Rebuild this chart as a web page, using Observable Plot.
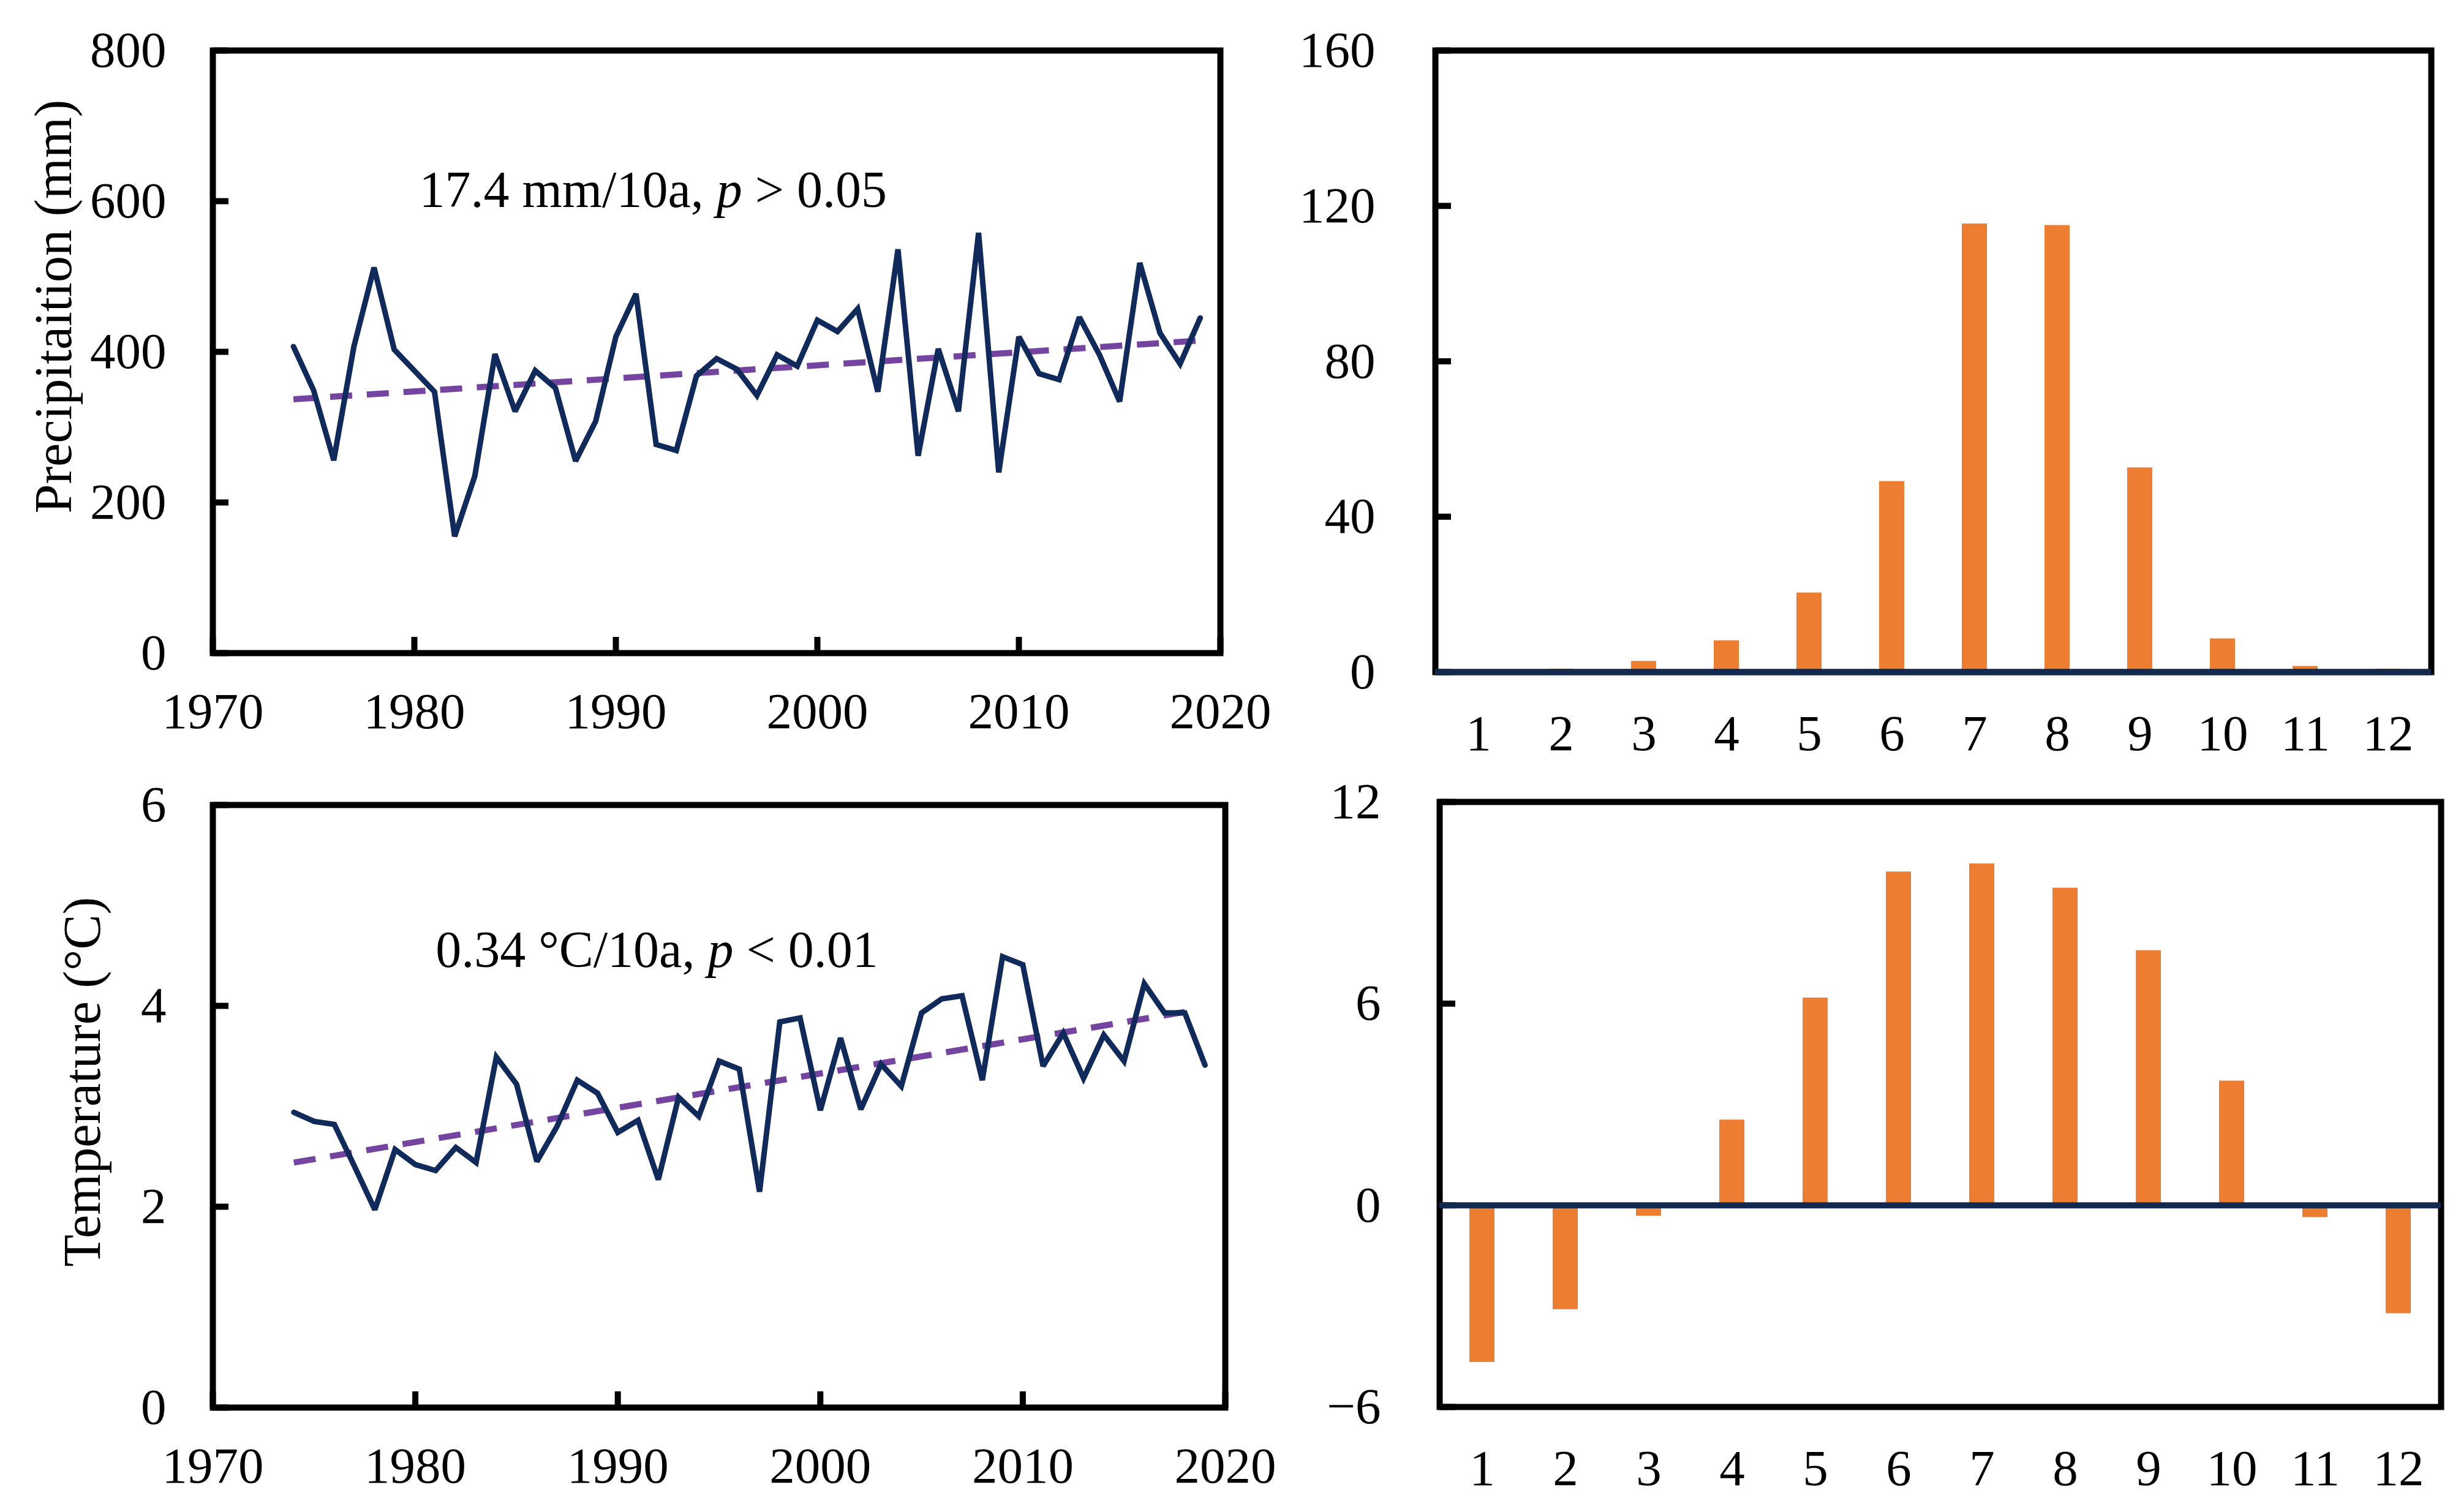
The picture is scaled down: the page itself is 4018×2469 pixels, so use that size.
<!DOCTYPE html>
<html><head><meta charset="utf-8">
<script src="https://cdn.jsdelivr.net/npm/d3@7"></script>
<script src="https://cdn.jsdelivr.net/npm/@observablehq/plot@0.6"></script>
<style>
html,body{margin:0;padding:0;background:#fff;}
#wrap{position:relative;width:4018px;height:2469px;overflow:hidden;background:#fff;}
#wrap svg{position:absolute;}
</style></head><body><div id="wrap"></div>
<script>
// ---------------- data ----------------
const years = [1974,1975,1976,1977,1978,1979,1980,1981,1982,1983,1984,1985,1986,1987,1988,1989,1990,1991,1992,1993,1994,1995,1996,1997,1998,1999,2000,2001,2002,2003,2004,2005,2006,2007,2008,2009,2010,2011,2012,2013,2014,2015,2016,2017,2018,2019];
const precip = [407,349,256,407,512,403,375,347,155,235,397,321,375,352,255,308,420,477,277,269,368,391,377,342,396,381,442,427,457,347,536,262,404,321,558,240,420,371,363,446,396,334,518,425,384,445];
const temp = [2.94,2.85,2.82,2.40,1.97,2.57,2.42,2.36,2.59,2.44,3.49,3.22,2.45,2.80,3.26,3.13,2.74,2.86,2.27,3.09,2.90,3.45,3.37,2.15,3.84,3.88,2.96,3.68,2.97,3.42,3.20,3.93,4.07,4.10,3.26,4.49,4.41,3.40,3.73,3.28,3.71,3.45,4.22,3.93,3.93,3.41];
const precipTrendYears = [1974, 2019];
const precipTrendValues = [337, 415];
const tempTrendYears = [1974, 2018];
const tempTrendValues = [2.44, 3.94];
const months = [1,2,3,4,5,6,7,8,9,10,11,12];
const monthPrecip = [0.3,0.8,2.8,8.1,20.4,49.1,115.4,115.0,52.6,8.6,1.5,0.8];
const monthTemp = [-4.67,-3.10,-0.32,2.54,6.17,9.92,10.16,9.44,7.58,3.70,-0.36,-3.22];
const yearTicks = [1970,1980,1990,2000,2010,2020];
const precipTicks = [0,200,400,600,800];
const tempTicks = [0,2,4,6];
const monthPrecipTicks = [0,40,80,120,160];
const monthTempTicks = [-6,0,6,12];
const precipLabel = "Precipitaition (mm)";
const tempLabel = "Temperature (°C)";
const precipNote = "17.4 mm/10a, p > 0.05";
const tempNote = "0.34 °C/10a, p < 0.01";

// ---------------- tables ----------------
const precipTable = years.map((y,i)=>({year:y, value:precip[i]}));
const tempTable = years.map((y,i)=>({year:y, value:temp[i]}));
const precipTrend = precipTrendYears.map((y,i)=>({year:y, value:precipTrendValues[i]}));
const tempTrend = tempTrendYears.map((y,i)=>({year:y, value:tempTrendValues[i]}));
const mpTable = months.map((m,i)=>({month:m, value:monthPrecip[i]}));
const mtTable = months.map((m,i)=>({month:m, value:monthTemp[i]}));

// ---------------- style ----------------
const FONT = "'Liberation Serif', 'Times New Roman', serif";
const NAVY = "#112a5c", PURPLE = "#7444a0", ORANGE = "#ED7D31", ZERO = "#13294f";
const FS = 83;
const SW = 10;
const baseStyle = {fontFamily: FONT, fontSize: FS+"px", background: "transparent", overflow: "visible", maxWidth: "none", color: "#000"};
const wrap = document.getElementById("wrap");
function place(svg, left, top){ svg.style.left = left+"px"; svg.style.top = top+"px"; wrap.appendChild(svg); }
const fmt = d => String(d);

function linePanel({table, trend, yDomain, yTicks, label, labelDx, labelDy, note, noteX, noteY, height, marginTop, marginBottom, marginRight}){
  return Plot.plot({
    width: 2100, height, marginLeft: 347, marginRight, marginTop, marginBottom,
    style: baseStyle,
    x: {domain: [1970, 2020], label: null},
    y: {domain: yDomain, label: null},
    marks: [
      Plot.line(trend, {x: "year", y: "value", stroke: PURPLE, strokeWidth: 10, strokeDasharray: "36,24", strokeLinecap: "butt"}),
      Plot.line(table, {x: "year", y: "value", stroke: NAVY, strokeWidth: 9, strokeLinejoin: "miter", strokeMiterlimit: 2.5}),
      Plot.axisX({ticks: yearTicks, tickSize: 0, tickPadding: 64, fontSize: FS, tickFormat: fmt, label: null}),
      Plot.axisX({ticks: yearTicks, tickSize: -26, fill: "none", stroke: "#000", strokeWidth: SW, label: null}),
      Plot.axisY({ticks: yTicks, tickSize: 0, tickPadding: 76, fontSize: FS, tickFormat: fmt, label: null}),
      Plot.axisY({ticks: yTicks, tickSize: -26, fill: "none", stroke: "#000", strokeWidth: SW, label: null}),
      Plot.frame({stroke: "#000", strokeWidth: SW}),
      Plot.text([note], {x: () => noteX, y: () => noteY, text: d => d, textAnchor: "start", lineAnchor: "bottom", fontSize: 84, fill: "#000"}),
      Plot.text([label], {frameAnchor: "left", textAnchor: "middle", lineAnchor: "middle", rotate: -90, dx: labelDx, dy: labelDy, text: d => d, fontSize: 86, fill: "#000"})
    ]
  });
}

function barPanel({table, yDomain, yTicks, height, marginLeft, marginRight, marginTop, marginBottom, yPad}){
  return Plot.plot({
    width: 1918, height, marginLeft, marginRight, marginTop, marginBottom,
    style: baseStyle,
    x: {type: "band", domain: months, paddingInner: 0.7, paddingOuter: 0.35, label: null},
    y: {domain: yDomain, label: null},
    marks: [
      Plot.barY(table, {x: "month", y: "value", fill: ORANGE}),
      Plot.axisX({tickSize: 0, tickPadding: 69, fontSize: FS, tickFormat: fmt, label: null}),
      Plot.axisY({ticks: yTicks, tickSize: 0, tickPadding: yPad, fontSize: FS, label: null}),
      Plot.axisY({ticks: yTicks, tickSize: -26, fill: "none", stroke: "#000", strokeWidth: SW, label: null}),
      Plot.frame({stroke: "#000", strokeWidth: SW}),
      Plot.ruleY([0], {stroke: ZERO, strokeWidth: SW})
    ]
  });
}

place(linePanel({table: precipTable, trend: precipTrend, yDomain: [0,800], yTicks: precipTicks, label: precipLabel,
  labelDx: -259, labelDy: -74, note: precipNote, noteX: 1980.24, noteY: 592,
  height: 1250, marginTop: 82, marginBottom: 184, marginRight: 108}), 0, 0);

place(linePanel({table: tempTable, trend: tempTrend, yDomain: [0,6], yTicks: tempTicks, label: tempLabel,
  labelDx: -212, labelDy: -40, note: tempNote, noteX: 1981.0, noteY: 4.39,
  height: 1219, marginTop: 64, marginBottom: 171, marginRight: 100}), 0, 1250);

place(barPanel({table: mpTable, yDomain: [0,160], yTicks: monthPrecipTicks, height: 1250,
  marginLeft: 243, marginRight: 49, marginTop: 82, marginBottom: 153, yPad: 98}), 2100, 0);

place(barPanel({table: mtTable, yDomain: [-6,12], yTicks: monthTempTicks, height: 1219,
  marginLeft: 250, marginRight: 33, marginTop: 59, marginBottom: 172, yPad: 96}), 2100, 1250);

// italic "p" in the trend notes
for (const t of wrap.querySelectorAll("text")) {
  const m = t.textContent.match(/^(.*, )(p)( .*)$/);
  if (m) {
    t.textContent = "";
    [m[1], m[2], m[3]].forEach((part, i) => {
      const ts = document.createElementNS("http://www.w3.org/2000/svg", "tspan");
      ts.textContent = part;
      if (i === 1) ts.setAttribute("font-style", "italic");
      t.appendChild(ts);
    });
  }
}
</script></body></html>
